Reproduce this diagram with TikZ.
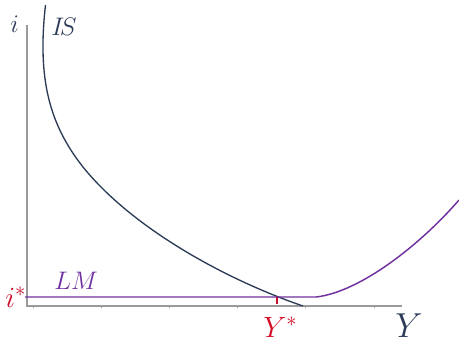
\documentclass[tikz,border=0pt]{standalone}
\usepackage{fix-cm}
\usepackage{amsmath}
\definecolor{isblue}{HTML}{2B3A57}
\definecolor{lmpurple}{HTML}{7030A0}
\definecolor{eqred}{HTML}{C8102E}
\definecolor{axgray}{HTML}{9A9A9A}
\begin{document}
\begin{tikzpicture}[x=0.75pt, y=-0.75pt,
  axis/.style={axgray, line width=1.1pt},
  iscurve/.style={isblue, line width=1pt},
  lmcurve/.style={lmpurple, line width=1.1pt},
  lbl/.style={inner sep=0pt, anchor=base west, font=\fontsize{19}{21}\selectfont}]
  \useasboundingbox (0,0) rectangle (459,344);

  \coordinate (O) at (27,306);
  \coordinate (Ytop) at (27,25);
  \coordinate (Xend) at (402,306);
  \draw[axis] (Ytop) -- (O) -- (Xend);
  \foreach \t in {0,...,5}
    \draw[axgray, line width=0.5pt] (33+68.2*\t,306) -- ++(0,2);

  % IS curve
  \coordinate (Istop) at (45.5,5);
  \coordinate (Ismid) at (83,167);
  \coordinate (Isend) at (303,306);
  \draw[iscurve] (Istop) .. controls (37,80) and (50,125) .. (Ismid)
    .. controls (133,229) and (227,280) .. (Isend);

  % LM curve
  \coordinate (Lstart) at (25,297);
  \coordinate (Lkink) at (316,297);
  \coordinate (Lend) at (459,200);
  \draw[lmcurve] (Lstart) -- (Lkink) .. controls (360,292) and (420,245) .. (Lend);

  % equilibrium
  \coordinate (E) at (277,297);
  \draw[eqred, line width=1.2pt] (E) -- ++(0,7);

  \node[lbl, text=isblue] (ilab) at (10,32) {$i$};
  \node[lbl, text=isblue] (islab) at (51,35) {$I\!S$};
  \node[lbl, text=lmpurple] (lmlab) at (54,289) {$LM$};
  \node[lbl, text=eqred, font=\fontsize{22}{24}\selectfont] (istar) at (5,307) {$i^*$};
  \node[lbl, text=eqred!80!red, font=\fontsize{22}{24}\selectfont] (ystar) at (263,337) {$Y^*$};
  \node[lbl, text=isblue, font=\fontsize{26}{28}\selectfont] (ylab) at (395,337) {$Y$};
\end{tikzpicture}
\end{document}
